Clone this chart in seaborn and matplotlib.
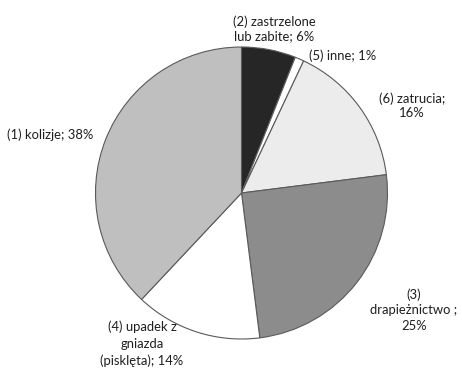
import matplotlib
matplotlib.use("Agg")
import matplotlib.pyplot as plt
import seaborn as sns

# Causes of death, share in percent (clockwise from the top)
categories = ["(2) zastrzelone\nlub zabite; 6%", "(5) inne; 1%", "(6) zatrucia;\n16%",
              "(3)\ndrapieżnictwo ;\n25%", "(4) upadek z\ngniazda\n(pisklęta); 14%",
              "(1) kolizje; 38%"]
values = [6, 1, 16, 25, 14, 38]
colors = ["#262626", "#ffffff", "#ececec", "#8c8c8c", "#ffffff", "#bfbfbf"]

# label anchor points (pixels from top-left) and line spacing
label_px = [(274, 29), (343, 56), (412, 106), (414, 310), (142, 344), (50, 135)]
label_ls = [1.2, 1.2, 1.2, 1.35, 1.45, 1.2]

sns.set_theme(style="white")
plt.rcParams["font.family"] = ["Lato", "DejaVu Sans"]

W, H = 462, 376
fig = plt.figure(figsize=(W / 100, H / 100), dpi=100)
fig.patch.set_facecolor("white")

cx, cy, r = 241.5, 193, 146
ax = fig.add_axes([(cx - r) / W, (H - cy - r) / H, 2 * r / W, 2 * r / H])
ax.pie(values, colors=colors, startangle=90, counterclock=False,
       wedgeprops=dict(edgecolor="#5a5a5a", linewidth=0.8))
ax.set_xlim(-1, 1)
ax.set_ylim(-1, 1)
ax.set_aspect("equal")
ax.axis("off")

for text, (px, py), ls in zip(categories, label_px, label_ls):
    fig.text(px / W, 1 - py / H, text, ha="center", va="center",
             fontsize=9.4, color="#1e1e1e", linespacing=ls, multialignment="center")

fig.savefig("out.png", dpi=100, facecolor="white")
